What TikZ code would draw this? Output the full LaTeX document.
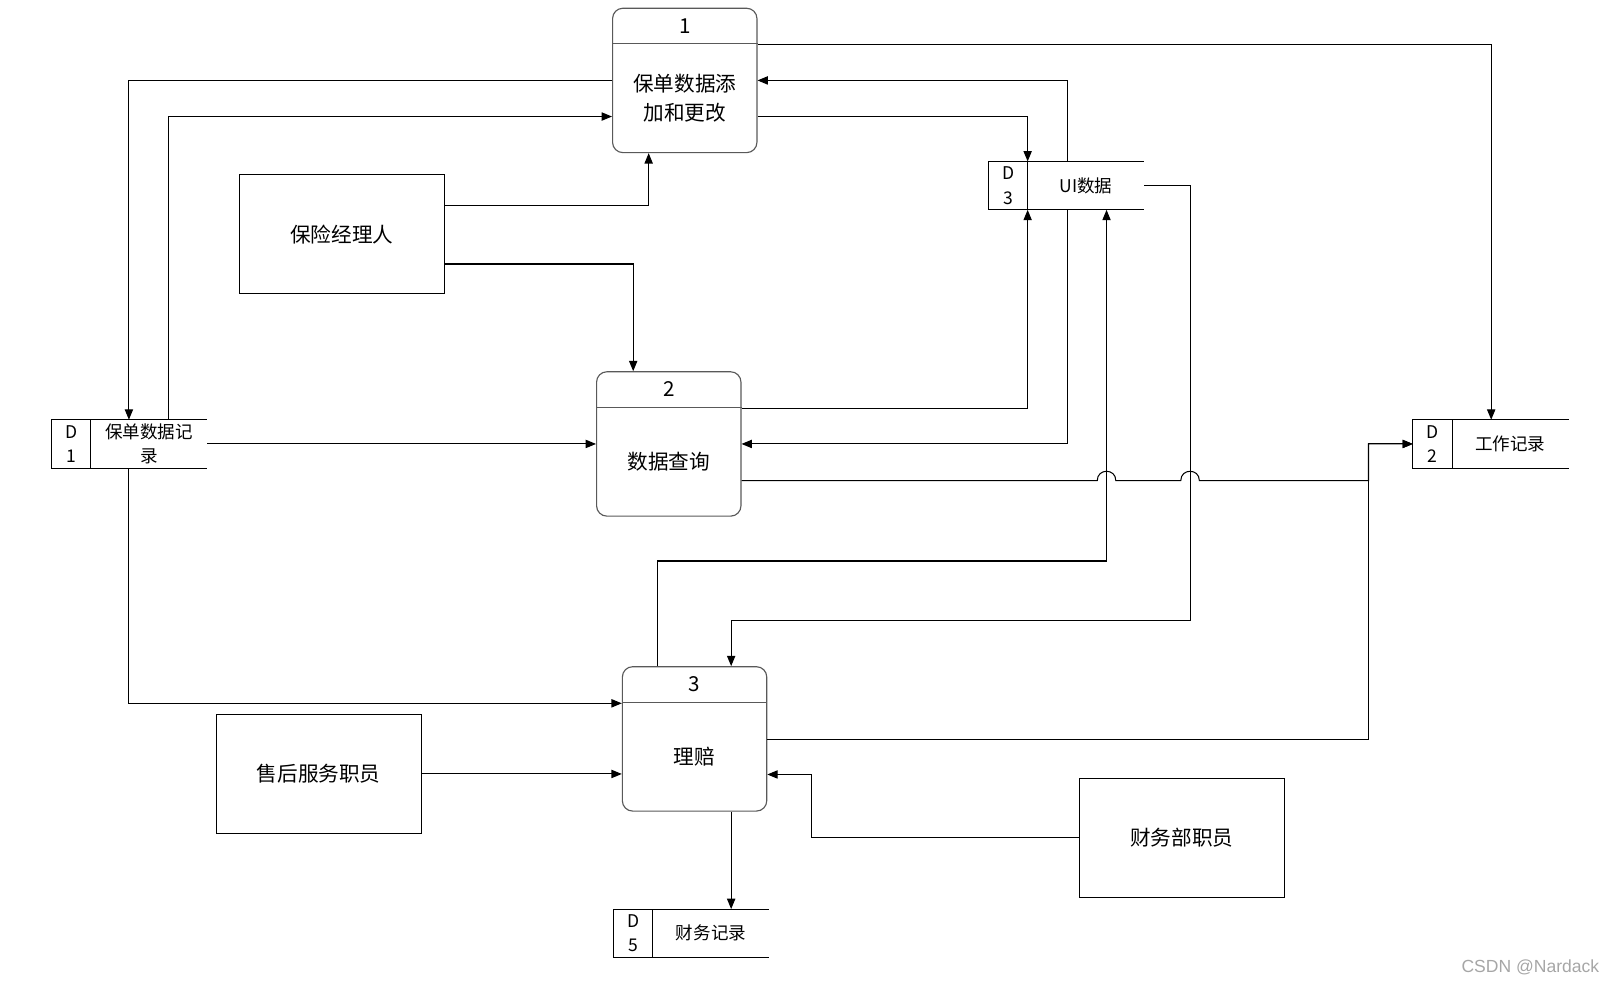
\documentclass[tikz,border=0pt]{standalone}
\usepackage{fontspec}
\newfontfamily\cjk{Noto Sans CJK SC}
\newfontfamily\wmfont{Liberation Sans}
\usetikzlibrary{arrows.meta,positioning}

\tikzset{
  proc/.style={draw=black!65, line width=1.1pt, rounded corners=10pt, minimum width=140pt, minimum height=140pt, inner sep=0pt},
  ent/.style={draw, line width=1pt, minimum width=199pt, minimum height=115pt, inner sep=0pt, font=\cjk\fontsize{20}{24}\selectfont},
  storeid/.style={draw, line width=1pt, minimum width=38pt, minimum height=47pt, inner sep=0pt, outer sep=0pt, align=center, font=\cjk\fontsize{17}{24}\selectfont},
  storelbl/.style={minimum width=113pt, minimum height=47pt, inner sep=0pt, outer sep=0pt, align=center, font=\cjk\fontsize{17}{24}\selectfont},
  flow/.style={line width=1pt, -{Triangle[length=10pt,width=8pt]}}
}

\begin{document}
\begin{tikzpicture}[x=1pt, y=-1pt]
\useasboundingbox (0,0) rectangle (1568,955);

\foreach \n/\px/\py/\t in {1/664/78/{保单数据添\\加和更改}, 2/648.5/430.5/{数据查询}, 3/673.5/716.5/{理赔}} {
  \node[proc] (p\n) at (\px,\py) {};
  \draw[draw=black!65, line width=1.1pt] ([yshift=-35pt]p\n.north west) -- ([yshift=-35pt]p\n.north east);
  \node[font=\cjk\fontsize{20}{24}\selectfont] (p\n num) at ([yshift=-17.5pt]p\n.north) {\n};
  \node[align=center, font=\cjk\fontsize{20}{28}\selectfont] (p\n txt) at ([yshift=-17.5pt]p\n.center) {\t};
}

\node[ent] (e1) at (331.5,227) {保险经理人};
\node[ent] (e2) at (309,750.5) {售后服务职员};
\node[ent] (e3) at (1146,812.5) {财务部职员};

\node[storeid] (d1id) at (69,430.5) {D\\1};
\node[storelbl, right=0pt of d1id] (d1) {保单数据记\\录};
\node[storeid] (d3id) at (977.5,180) {D\\3};
\node[storelbl, right=0pt of d3id] (d3) {UI数据};
\node[storeid] (d2id) at (1389,430.5) {D\\2};
\node[storelbl, right=0pt of d2id] (d2) {工作记录};
\node[storeid] (d5id) at (614,905) {D\\5};
\node[storelbl, right=0pt of d5id] (d5) {财务记录};
\foreach \s in {d1,d2,d3,d5}
  \draw[line width=1pt] (\s id.north east) -- (\s id.north east -| \s.east) (\s id.south east) -- (\s id.south east -| \s.east);

\draw[flow] (p1.east |- 0,43) -| (1446,0 |- d2.north);
\draw[flow] (p1.west |- 0,78) -| (125,0 |- d1.north);
\draw[flow] (163,0 |- d1.north) |- (p1.west |- 0,113);
\draw[flow] (e1.east |- 0,199) -| (629,0 |- p1.south);
\draw[flow] (e1.east |- 0,256) -| (614,0 |- p2.north);
\draw[flow] (p1.east |- 0,113) -| (d3id.north east);
\draw[flow] (1035,0 |- d3.north) |- (p1.east |- 0,78);
\draw[flow] (p2.east |- 0,396) -| (d3id.south east);
\draw[flow] (1035,0 |- d3.south) |- (p2.east);
\draw[flow] (d1.east) -- (p2.west);
\draw[flow] (p2.east |- 0,466) -- (1064,466) .. controls (1064,454) and (1082,454) .. (1082,466)
  -- (1145,466) .. controls (1145,454) and (1163,454) .. (1163,466) -- (1327,466) |- (d2id.west);
\draw[flow] (p3.east |- 0,717) -| (1327,0 |- d2id.west) -- (d2id.west);
\draw[flow] (638,0 |- p3.north) |- (1073,544) -- (1073,0 |- d3.south);
\draw[flow] (d3.east) -| (1154,602) -| (709,0 |- p3.north);
\draw[flow] (125,0 |- d1.south) |- (p3.west |- 0,682);
\draw[flow] (e2.east) -- (p3.west |- e2.east);
\draw[flow] (e3.west) -| (787,751) -- (p3.east |- 0,751);
\draw[flow] (709,0 |- p3.south) -- (709,0 |- d5.north);

\node[text=black!35, font=\wmfont\fontsize{17}{20}\selectfont] (wm) at (1484,938) {CSDN @Nardack};
\end{tikzpicture}
\end{document}
